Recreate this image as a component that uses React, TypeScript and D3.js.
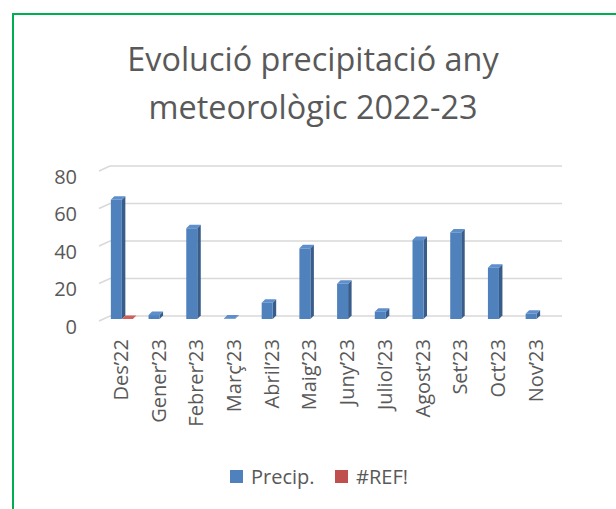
import React from "react";
import * as d3 from "d3";

const categories = ["Des’22", "Gener’23", "Febrer’23", "Març’23", "Abril’23", "Maig’23", "Juny’23", "Juliol’23", "Agost’23", "Set’23", "Oct’23", "Nov’23"];
const precip = [63.6, 2.1, 48.4, 0.3, 8.7, 37.7, 18.8, 3.9, 42.1, 46.2, 27.4, 2.8];
const refSeries: (number | null)[] = [0, null, null, null, null, null, null, null, null, null, null, null];
const yTicks = [0, 20, 40, 60, 80];
const titleLines = ["Evolució precipitació any", "meteorològic 2022-23"];
const legendItems = [
  { name: "Precip.", color: "#4F81BD", side: "#385D8A", top: "#5E8FCC" },
  { name: "#REF!", color: "#C0504D", side: "#8C3836", top: "#D0605C" },
];

const FONT = "'Open Sans', sans-serif";
const TEXT = "#595959";

export default function App() {
  const x = d3.scaleBand<string>().domain(categories).range([103, 555.5]).padding(0);
  const yBack = d3.scaleLinear().domain([0, 80]).range([316, 166]);
  const yBar = d3.scaleLinear().domain([0, 80]).range([319, 169]);
  const barW = x.bandwidth() * 0.292;
  const d = 3.5;
  const fdx = -11, fdy = 5;
  const gridRight = 562;

  const bar3d = (bx: number, v: number, s: typeof legendItems[0], key: string) => {
    const y0 = yBar(0);
    const yt = yBar(v);
    const w = barW;
    return (
      <g key={key}>
        <polygon points={`${bx + w},${y0} ${bx + w + d},${y0 - d} ${bx + w + d},${yt - d} ${bx + w},${yt}`} fill={s.side} />
        <rect x={bx} y={yt} width={w} height={Math.max(0, y0 - yt)} fill={s.color} />
        <polygon points={`${bx},${yt} ${bx + d},${yt - d} ${bx + w + d},${yt - d} ${bx + w},${yt}`} fill={s.top} />
      </g>
    );
  };

  return (
    <svg width={616} height={509} style={{ position: "absolute", left: 0, top: 0, background: "#fff" }}>
      <rect x={0} y={0} width={616} height={509} fill="#fff" />
      <rect x={13} y={14} width={700} height={600} fill="none" stroke="#00B050" strokeWidth={2} />
      {titleLines.map((t, i) => (
        <text key={t} x={313} y={71 + i * 48} textAnchor="middle" fontFamily={FONT} fontSize={32.4} fill={TEXT}>
          {t}
        </text>
      ))}
      {yTicks.map((v) => (
        <g key={v}>
          <polyline
            points={`${110 + fdx},${yBack(v) + fdy} 110,${yBack(v)} ${gridRight},${yBack(v)}`}
            fill="none"
            stroke="#D9D9D9"
            strokeWidth={1.5}
          />
          <text x={77} y={yBack(v) + 10} textAnchor="end" dominantBaseline="central" fontFamily={FONT} fontSize={20} fill={TEXT}>
            {v}
          </text>
        </g>
      ))}
      {categories.map((c, i) => {
        const bx = (x(c) as number) + (x.bandwidth() - 2 * barW) / 2;
        return (
          <g key={c}>
            {bar3d(bx, precip[i], legendItems[0], "p")}
            {refSeries[i] !== null ? bar3d(bx + barW, refSeries[i] as number, legendItems[1], "r") : null}
          </g>
        );
      })}
      {categories.map((c) => {
        const cx = (x(c) as number) + x.bandwidth() / 2 - 1.5;
        return (
          <text
            key={c}
            transform={`translate(${cx},339) rotate(-90)`}
            textAnchor="end"
            dominantBaseline="central"
            fontFamily={FONT}
            fontSize={20}
            fill={TEXT}
          >
            {c}
          </text>
        );
      })}
      {legendItems.map((s, i) => {
        const lx = i === 0 ? 230 : 335;
        return (
          <g key={s.name}>
            <rect x={lx} y={470} width={13} height={13} fill={s.color} />
            <text x={lx + 21} y={484} fontFamily={FONT} fontSize={20} fill={TEXT}>
              {s.name}
            </text>
          </g>
        );
      })}
    </svg>
  );
}
